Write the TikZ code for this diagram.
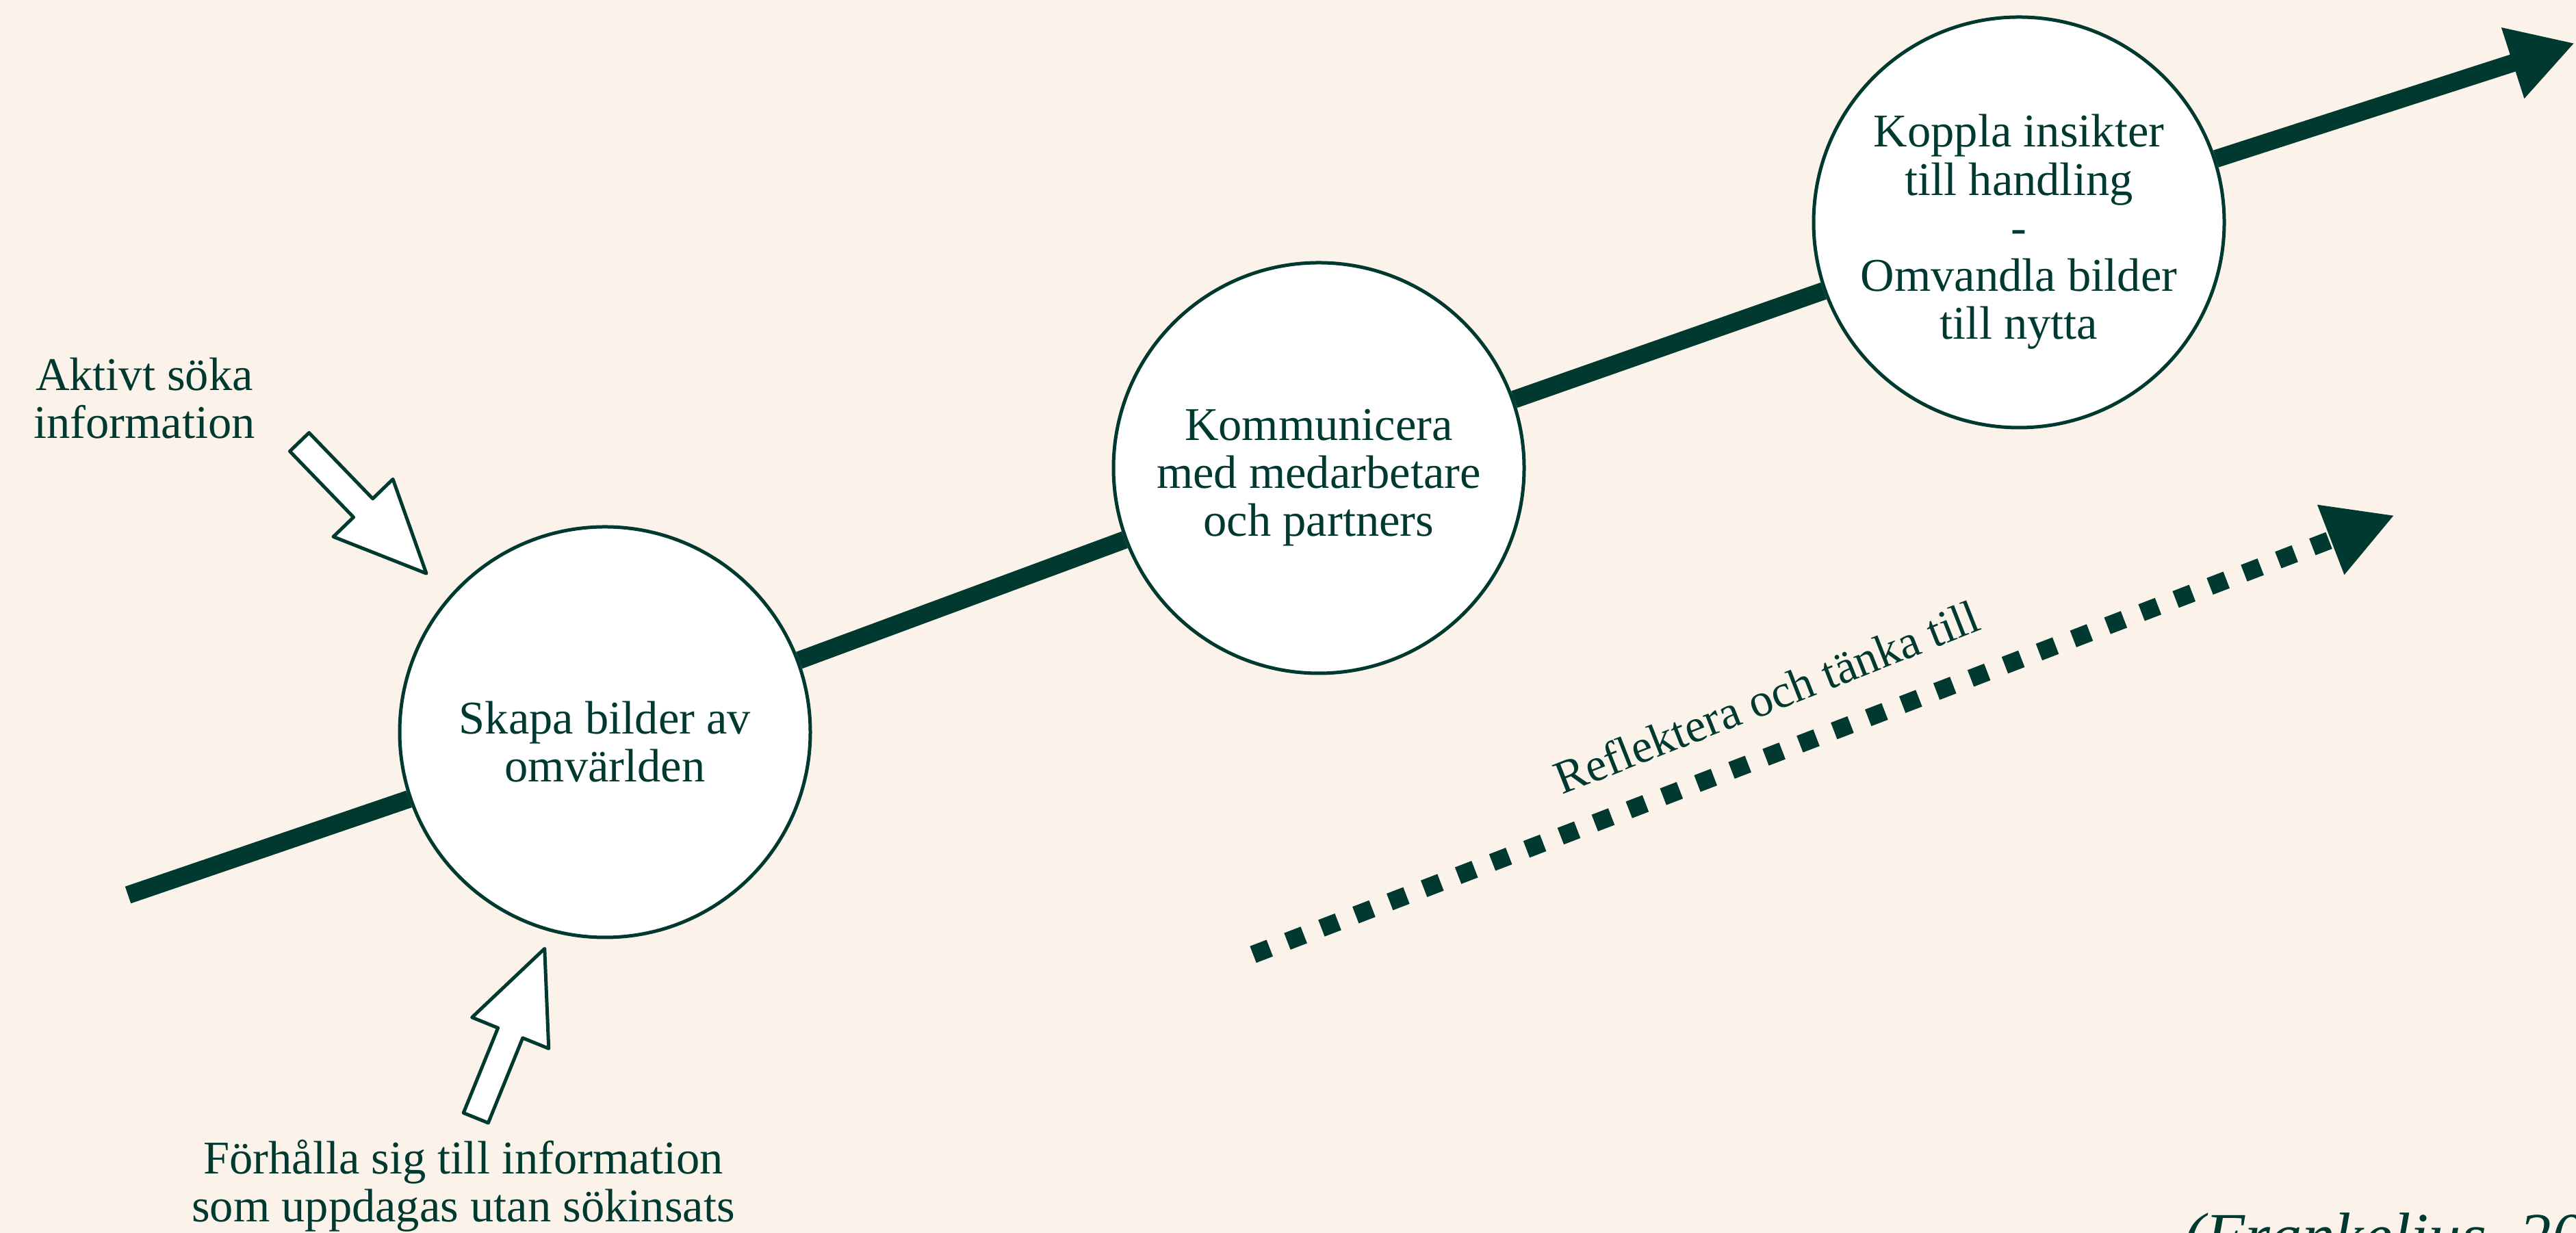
\documentclass[tikz,border=0pt]{standalone}
\usepackage{fontspec}
\setmainfont{Liberation Serif}
\usetikzlibrary{arrows.meta}
\definecolor{cream}{RGB}{251,242,233}
\definecolor{deepgreen}{RGB}{0,57,47}

\begin{document}
\begin{tikzpicture}[every node/.style={font=\fontsize{19.5}{20}\selectfont, text=deepgreen},
    stage/.style={circle, draw=deepgreen, line width=0.05cm, fill=white, minimum size=6cm, inner sep=0pt},
    stagetext/.style={align=center, yshift=-0.14cm},
    mainline/.style={draw=deepgreen, line width=0.26cm},
    hollow/.style={draw=deepgreen, line width=0.05cm, fill=white, line join=round}]

    % === Canvas ===
    \useasboundingbox (0,0) rectangle (37.64,18.02);
    \fill[cream] (0,0) rectangle (37.64,18.02);
    \clip (0,0) rectangle (37.64,18.02);

    % === Main line – 3 stages ===
    \coordinate (lineStart) at (1.87,4.94);
    \coordinate (lineEnd) at (37.62,17.39);
    \node[stage, label={[stagetext, name=skapaText]center:{Skapa bilder av\\omvärlden}}] (skapa) at (8.84,7.32) {};
    \node[stage, label={[stagetext, name=kommuniceraText]center:{Kommunicera\\med medarbetare\\och partners}}] (kommunicera) at (19.27,11.18) {};
    \node[stage, label={[stagetext, name=kopplaText]center:{Koppla insikter\\till handling\\-\\Omvandla bilder\\till nytta}}] (koppla) at (29.50,14.77) {};

    \draw[mainline] (lineStart) -- (skapa);
    \draw[mainline] (skapa) -- (kommunicera);
    \draw[mainline] (kommunicera) -- (koppla);
    \draw[mainline,-{Triangle[length=0.95cm,width=1.02cm]}] (koppla) -- (lineEnd);

    % === Inputs to the first stage ===
    \node[align=center] (aktivt) at (2.11,12.20) {Aktivt söka\\information};
    \node[align=center] (forhalla) at (6.77,0.69) {Förhålla sig till information\\som uppdagas utan sökinsats};
    \draw[hollow, shift={(4.375,11.56)}, rotate=-46] (0,0.195) -- (1.34,0.195) -- (1.34,0.605) -- (2.67,0) -- (1.34,-0.605) -- (1.34,-0.195) -- (0,-0.195) -- cycle;
    \draw[hollow, shift={(6.953,1.682)}, rotate=67.9] (0,0.195) -- (1.34,0.195) -- (1.34,0.605) -- (2.67,0) -- (1.34,-0.605) -- (1.34,-0.195) -- (0,-0.195) -- cycle;

    % === Dotted arrow ===
    \coordinate (reflectStart) at (18.31,4.07);
    \coordinate (reflectEnd) at (34.99,10.49);
    \draw[deepgreen, line width=0.26cm, dash pattern=on 0.26cm off 0.275cm, -{Triangle[length=1.0cm,width=1.02cm]}] (reflectStart) -- (reflectEnd);
    \node[anchor=base, rotate=21.5] (reflektera) at (25.90,7.61) {Reflektera och tänka till};

    % === Source ===
    \node[font=\fontsize{27}{30}\selectfont\itshape, anchor=base west] (source) at (31.78,-0.37) {(Frankelius, 20};
\end{tikzpicture}
\end{document}
